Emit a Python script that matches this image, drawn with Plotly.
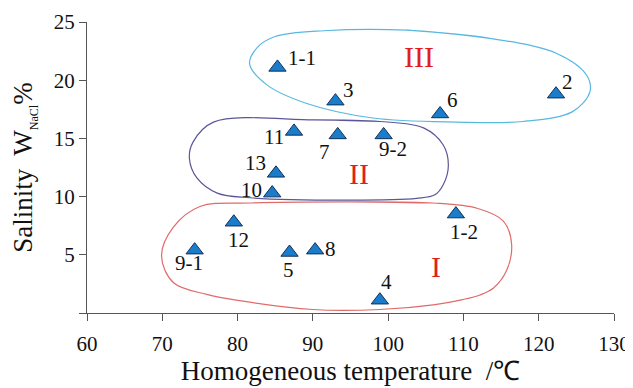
import plotly.graph_objects as go

# ---- data ----
labels = ["1-1", "3", "6", "2", "11", "7", "9-2", "13", "10", "12", "1-2", "9-1", "5", "8", "4"]
temp = [85.3, 93.0, 106.9, 122.3, 87.5, 93.3, 99.4, 85.1, 84.6, 79.5, 109.0, 74.3, 86.9, 90.3, 98.9]
salinity = [21.1, 18.2, 17.1, 18.8, 15.6, 15.3, 15.3, 12.0, 10.3, 7.8, 8.5, 5.4, 5.2, 5.4, 1.1]

# group outlines (temperature, salinity), each starting on a flat top stretch
region_I_x = [94.9, 106.0, 111.8, 115.3, 116.4, 115.7, 114.0, 112.2, 109.9, 106.0, 98.9, 90.0,
              79.4, 75.9, 71.5, 69.9, 71.5, 75.0, 81.7]
region_I_y = [9.55, 9.45, 9.0, 7.9, 5.9, 3.6, 2.15, 1.55, 1.15, 0.7, 0.3, 0.3,
              1.15, 1.6, 2.6, 4.9, 7.4, 9.15, 9.45]
region_II_x = [90.1, 98.9, 104.7, 107.3, 108.0, 107.3, 106.2, 103.8, 94.9, 81.7, 77.3, 74.6, 73.6, 74.1, 76.8]
region_II_y = [16.6, 16.45, 15.9, 14.45, 12.7, 11.0, 10.15, 9.85, 9.7, 9.9, 10.3, 11.6, 13.3, 14.7, 16.4]
region_III_x = [102.5, 113.5, 122.4, 126.35, 126.8, 124.5, 117.9, 109.1, 98.0, 89.2, 83.9, 81.6, 82.6, 85.0, 91.4]
region_III_y = [24.3, 23.6, 22.3, 20.45, 19.0, 17.3, 16.45, 16.4, 16.75, 18.0, 19.6, 21.4, 22.8, 23.75, 24.25]

region_names = ["I", "II", "III"]
region_name_x = [106.4, 96.15, 104.1]
region_name_y = [4.0, 12.0, 22.0]

x_ticks = [60, 70, 80, 90, 100, 110, 120, 130]
y_ticks = [0, 5, 10, 15, 20, 25]
y_ticktext = ["", "5", "10", "15", "20", "25"]

# label offsets in pixels (style)
label_dx = [25, 13, 12, 11, -20, -13, 9, -20, -21, 5, 8, -6, -1, 15, 7]
label_dy = [9, 11, 14, 12, -6, -17, -14, 10, 3, -18, -18, -13, -18, 1, 18]

FONT = "Liberation Serif"

fig = go.Figure()


def closed(xs, ys):
    return xs + xs[:2], ys + ys[:2]


for xs, ys, col in [(region_I_x, region_I_y, "#e06a6a"),
                    (region_II_x, region_II_y, "#5a5699"),
                    (region_III_x, region_III_y, "#58b8e0")]:
    cx, cy = closed(xs, ys)
    fig.add_trace(go.Scatter(x=cx, y=cy, mode="lines",
                             line=dict(color=col, width=1.2, shape="spline", smoothing=1.0),
                             hoverinfo="skip", showlegend=False))

fig.add_trace(go.Scatter(x=temp, y=salinity, mode="markers",
                         marker=dict(symbol="triangle-up", size=15, color="#1a7dcc",
                                     line=dict(color="#12305a", width=1)),
                         showlegend=False))

for lab, x, y, dx, dy in zip(labels, temp, salinity, label_dx, label_dy):
    fig.add_annotation(x=x, y=y, text=lab, showarrow=False, xshift=dx, yshift=dy,
                       font=dict(family=FONT, size=21, color="#111111"))

for name, x, y in zip(region_names, region_name_x, region_name_y):
    fig.add_annotation(x=x, y=y, text=name, showarrow=False,
                       font=dict(family=FONT, size=30, color="#e0201e"))

axis_common = dict(showline=True, linecolor="#555555", linewidth=1, ticks="outside",
                   ticklen=7, tickwidth=1, tickcolor="#555555", showgrid=False, zeroline=False,
                   automargin=False,
                   tickfont=dict(family=FONT, size=21, color="#111111"))

fig.update_xaxes(range=[60, 130], tickvals=x_ticks, ticklabelstandoff=5,
                 title=dict(text="Homogeneous temperature  /℃",
                            font=dict(family=FONT, size=27, color="#111111"), standoff=4),
                 **axis_common)
fig.update_yaxes(range=[0, 25], tickvals=y_ticks, ticktext=y_ticktext,
                 title=dict(text="Salinity  W<sub><span style='font-size:12px'>NaCl</span></sub>%",
                            font=dict(family=FONT, size=27, color="#111111"), standoff=16),
                 **axis_common)

fig.update_layout(width=625, height=380, margin=dict(l=79, r=19, t=14, b=75),
                  plot_bgcolor="white", paper_bgcolor="white", showlegend=False)

fig.write_html("out.html")
